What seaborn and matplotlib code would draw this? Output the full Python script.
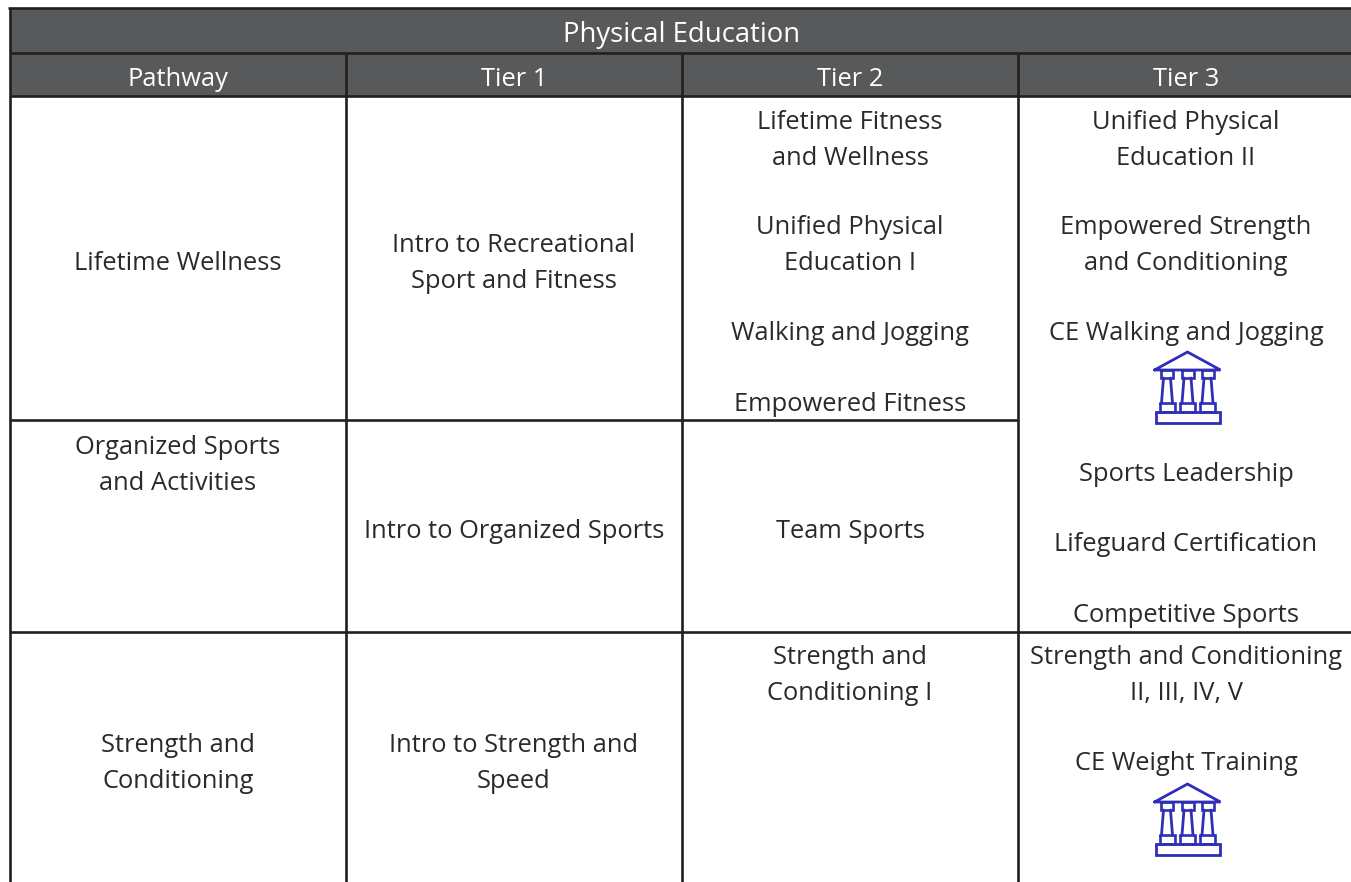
import matplotlib
matplotlib.use("Agg")
import matplotlib.pyplot as plt
import seaborn as sns

sns.set_theme(style="white")
plt.rcParams['font.family'] = ['Open Sans', 'DejaVu Sans']

title = "Physical Education"
headers = ["Pathway", "Tier 1", "Tier 2", "Tier 3"]
pathway = [("Lifetime Wellness", 261), ("Organized Sports\nand Activities", 463),
           ("Strength and\nConditioning", 761)]
tier1 = [("Intro to Recreational\nSport and Fitness", 261), ("Intro to Organized Sports", 529),
         ("Intro to Strength and\nSpeed", 761)]
tier2 = [("Lifetime Fitness\nand Wellness", 138), ("Unified Physical\nEducation I", 243),
         ("Walking and Jogging", 331), ("Empowered Fitness", 402), ("Team Sports", 529),
         ("Strength and\nConditioning I", 673)]
tier3 = [("Unified Physical\nEducation II", 138), ("Empowered Strength\nand Conditioning", 243),
         ("CE Walking and Jogging", 331), ("Sports Leadership", 472), ("Lifeguard Certification", 542),
         ("Competitive Sports", 613), ("Strength and Conditioning\nII, III, IV, V", 673),
         ("CE Weight Training", 761)]
icon_rows = [385, 817]

W, H = 1351, 882
INK, DARK, BLUE = "#231f20", "#58595b", "#2e2eb8"
col_x = [10, 346, 682, 1018, W]
col_mid = [178, 514, 850, 1186]

fig = plt.figure(figsize=(W / 100, H / 100), dpi=100)
ax = fig.add_axes([0, 0, 1, 1])
ax.set_xlim(0, W)
ax.set_ylim(H, 0)
ax.axis("off")

ax.fill_between([10, W], 8, 96, color=DARK, lw=0, zorder=1)


def hline(y, x0, x1):
    ax.plot([x0, x1], [y, y], color=INK, lw=1.9, solid_capstyle="butt", zorder=2)


def vline(x, y0, y1):
    ax.plot([x, x], [y0, y1], color=INK, lw=1.9, solid_capstyle="butt", zorder=2)


hline(8, 8, W)
hline(53, 10, W)
hline(96, 10, W)
hline(420, 10, 1018)
hline(632, 10, W)
vline(10, 8, H)
for x in col_x[1:4]:
    vline(x, 53, H)

TXT = dict(ha="center", va="center", fontsize=18.4, linespacing=1.56, zorder=3)
ax.text(682, 35, title, color="white", **{**TXT, "fontsize": 19.8})
for m, h in zip(col_mid, headers):
    ax.text(m, 79, h, color="white", **TXT)
for m, col in zip(col_mid, [pathway, tier1, tier2, tier3]):
    for label, y in col:
        ax.text(m, y + 2.5, label, color="#2b2a2b", **TXT)


def icon(cx, cy):
    """Institution glyph, centred on (cx, cy)."""
    def line(xs, ys, lw=2.0):
        ax.plot([cx + x for x in xs], [cy + y for y in ys], color=BLUE, lw=lw,
                solid_joinstyle="miter", zorder=3)
    line([-33, 0, 33, -33], [-15, -33, -15, -15])
    line([-32, 32, 32, -32, -32], [27, 27, 38, 38, 27])
    for c in (-20.5, 0, 20):
        line([c - 6, c + 6, c + 6, c - 6, c - 6], [-15, -15, -7, -7, -15], 1.9)
        line([c - 3.5, c - 5.5], [-7, 18])
        line([c + 3.5, c + 5.5], [-7, 18])
        line([c - 7.5, c + 7.5, c + 7.5, c - 7.5, c - 7.5], [18, 18, 27, 27, 18], 1.9)


for y in icon_rows:
    icon(1187.5, y)

fig.savefig("out.png", dpi=100, facecolor="white")
